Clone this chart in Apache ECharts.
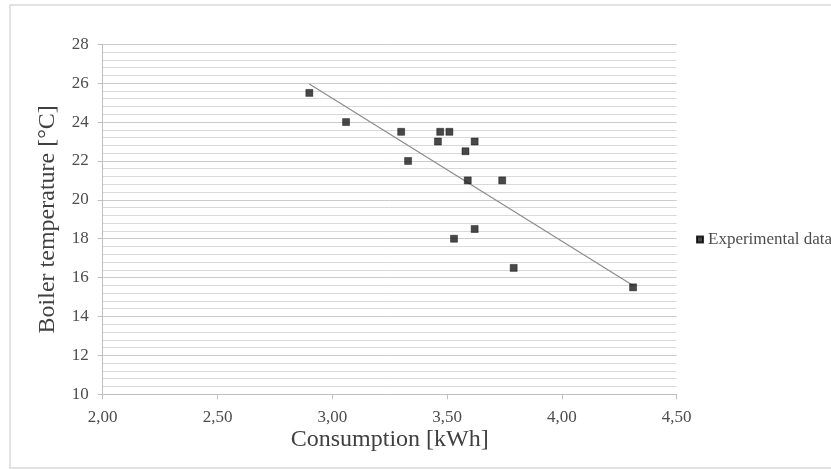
<!DOCTYPE html>
<html>
<head>
<meta charset="utf-8">
<script src="https://cdn.jsdelivr.net/npm/echarts@6/dist/echarts.min.js"></script>
<style>
  html, body { margin: 0; padding: 0; background: #ffffff; }
  #chart { width: 831px; height: 469px; }
</style>
</head>
<body>
<div id="chart"></div>
<script>
// Measured electricity consumption per run and the matching boiler temperature
const consumption = [2.90, 3.06, 3.30, 3.33, 3.46, 3.47, 3.51, 3.58, 3.62, 3.59, 3.74, 3.62, 3.53, 3.79, 4.31];
const temperature = [25.5, 24.0, 23.5, 22.0, 23.0, 23.5, 23.5, 22.5, 23.0, 21.0, 21.0, 18.5, 18.0, 16.5, 15.5];

// Axis tick values
const xTicks = [2.0, 2.5, 3.0, 3.5, 4.0, 4.5];
const yTicks = [10, 12, 14, 16, 18, 20, 22, 24, 26, 28];

const seriesName = 'Experimental data';
const xTitle = 'Consumption [kWh]';
const yTitle = 'Boiler temperature [°C]';

// Points for the scatter series
const points = consumption.map((x, i) => [x, temperature[i]]);

// Least-squares linear trend line over the measured range
const n = consumption.length;
const meanX = consumption.reduce((a, b) => a + b, 0) / n;
const meanY = temperature.reduce((a, b) => a + b, 0) / n;
let sxy = 0, sxx = 0;
for (let i = 0; i < n; i++) {
  sxy += (consumption[i] - meanX) * (temperature[i] - meanY);
  sxx += (consumption[i] - meanX) * (consumption[i] - meanX);
}
const slope = sxy / sxx;
const intercept = meanY - slope * meanX;
const xMin = Math.min(...consumption);
const xMax = Math.max(...consumption);
const trend = [[xMin, intercept + slope * xMin], [xMax, intercept + slope * xMax]];

const serif = '"Liberation Serif", "Times New Roman", serif';

const chart = echarts.init(document.getElementById('chart'), null, { renderer: 'canvas' });
chart.setOption({
  animation: false,
  backgroundColor: '#ffffff',
  graphic: [{
    type: 'rect',
    silent: true,
    z: -1,
    shape: { x: 10, y: 5, width: 840, height: 463 },
    style: { fill: 'none', stroke: '#d9d9d9', lineWidth: 1.5 }
  }],
  grid: { left: 102.7, right: 154.3, top: 44.3, bottom: 74.7, containLabel: false },
  legend: {
    data: [seriesName],
    left: 691,
    top: 226,
    orient: 'vertical',
    itemWidth: 6,
    itemHeight: 6,
    textStyle: { fontFamily: serif, fontSize: 17, color: '#4d4d4d' }
  },
  xAxis: {
    type: 'value',
    min: xTicks[0],
    max: xTicks[xTicks.length - 1],
    interval: xTicks[1] - xTicks[0],
    name: xTitle,
    nameLocation: 'middle',
    nameGap: 33,
    nameMoveOverlap: false,
    nameTextStyle: { fontFamily: serif, fontSize: 24, color: '#404040' },
    axisLine: { show: true, lineStyle: { color: '#bfbfbf', width: 1 } },
    axisTick: { show: true, length: 5, inside: false, lineStyle: { color: '#bfbfbf' } },
    axisLabel: {
      margin: 15,
      fontFamily: serif, fontSize: 17, color: '#4d4d4d',
      formatter: v => v.toFixed(2).replace('.', ',')
    },
    splitLine: { show: false }
  },
  yAxis: {
    type: 'value',
    min: yTicks[0],
    max: yTicks[yTicks.length - 1],
    interval: yTicks[1] - yTicks[0],
    name: yTitle,
    nameLocation: 'middle',
    nameGap: 43,
    nameMoveOverlap: false,
    nameRotate: 90,
    nameTextStyle: { fontFamily: serif, fontSize: 24, color: '#404040' },
    axisLine: { show: true, lineStyle: { color: '#bfbfbf', width: 1 } },
    axisTick: { show: true, length: 5, inside: false, lineStyle: { color: '#bfbfbf' } },
    axisLabel: { margin: 14, fontFamily: serif, fontSize: 17, color: '#4d4d4d' },
    splitLine: { show: true, lineStyle: { color: '#cccccc', width: 1 } },
    minorTick: { show: false, splitNumber: 5 },
    minorSplitLine: { show: true, lineStyle: { color: '#d9d9d9', width: 1 } }
  },
  series: [
    {
      name: seriesName,
      type: 'scatter',
      data: points,
      symbol: 'rect',
      symbolSize: 7,
      itemStyle: { color: '#1a1a1a', borderColor: '#000000', borderWidth: 0.5 },
      z: 3
    },
    {
      name: 'Trend',
      type: 'line',
      data: trend,
      showSymbol: false,
      symbol: 'none',
      lineStyle: { color: '#8c8c8c', width: 1.2 },
      z: 2
    }
  ]
});
</script>
</body>
</html>
